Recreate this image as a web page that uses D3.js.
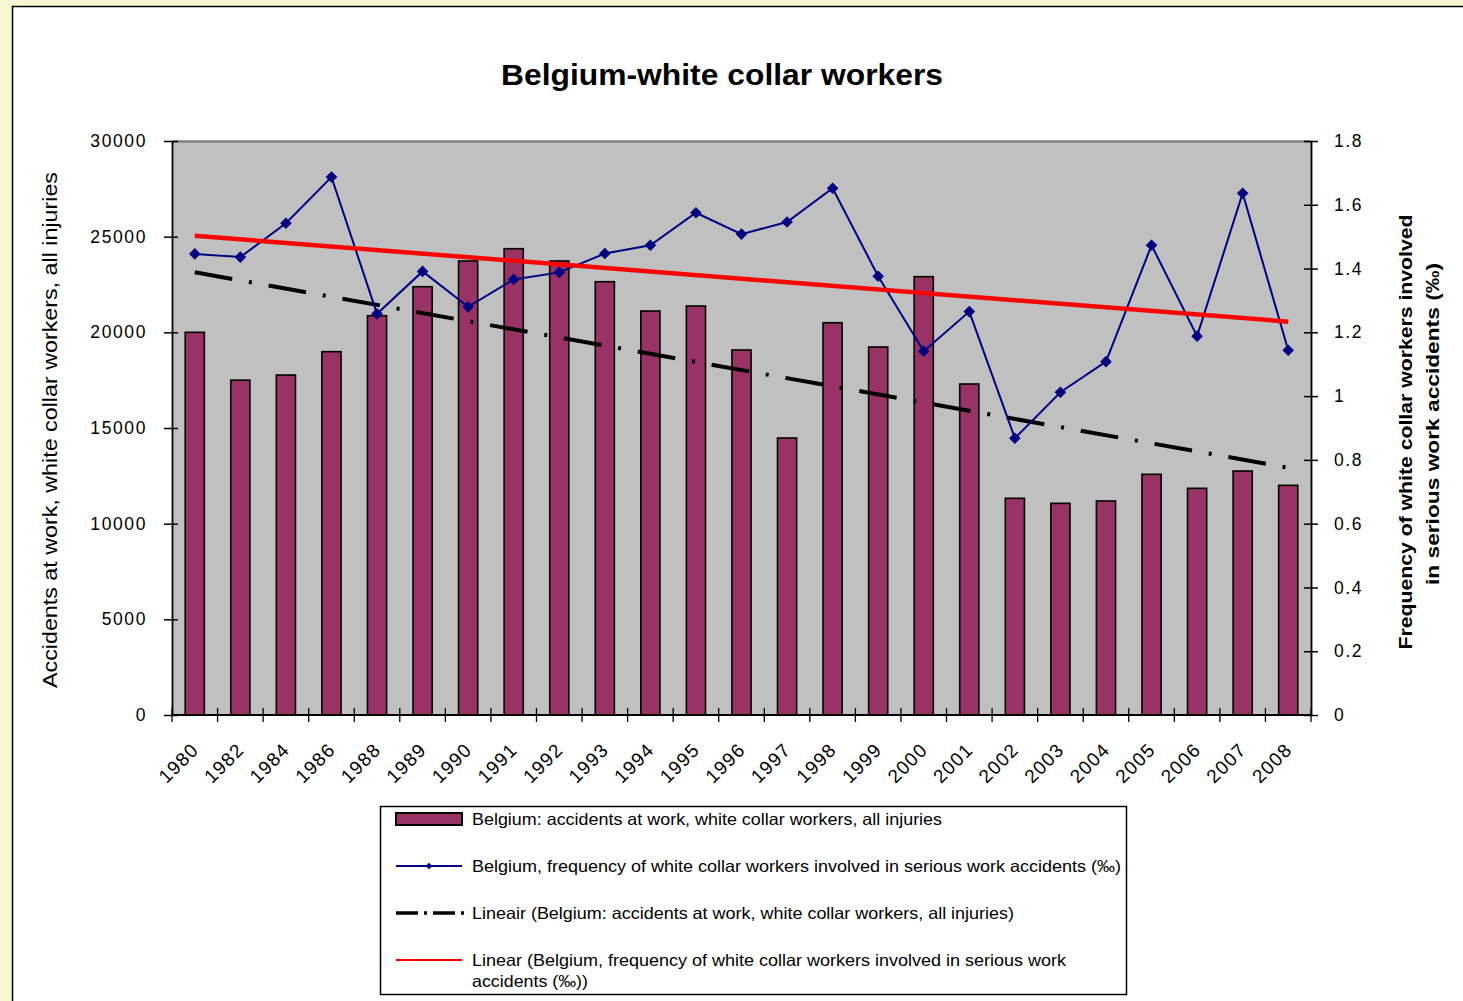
<!DOCTYPE html>
<html>
<head>
<meta charset="utf-8">
<script src="https://cdn.jsdelivr.net/npm/d3@7"></script>
<style>
  html, body { margin: 0; padding: 0; background: #FAF8D2; }
  svg { display: block; }
  text { font-family: "Liberation Sans", Arial, sans-serif; fill: #000; }
</style>
</head>
<body>
<svg id="chart" width="1463" height="1001"></svg>
<script>
// ---------- data ----------
const years = ["1980","1982","1984","1986","1988","1989","1990","1991","1992","1993",
  "1994","1995","1996","1997","1998","1999","2000","2001","2002","2003",
  "2004","2005","2006","2007","2008"];
const accidents = [20000, 17500, 17770, 18990, 20870, 22385, 23728, 24370, 23728, 22646,
  21115, 21376, 19077, 14477, 20502, 19233, 22909, 17300, 11325, 11063,
  11185, 12579, 11847, 12753, 12003];
const frequency = [1.446, 1.436, 1.542, 1.687, 1.258, 1.391, 1.280, 1.366, 1.388, 1.447,
  1.473, 1.575, 1.508, 1.546, 1.652, 1.376, 1.141, 1.265, 0.868, 1.012,
  1.108, 1.473, 1.188, 1.636, 1.144];
const leftTicks = [0, 5000, 10000, 15000, 20000, 25000, 30000];
const rightTicks = [0, 0.2, 0.4, 0.6, 0.8, 1, 1.2, 1.4, 1.6, 1.8];
const titleText = "Belgium-white collar workers";
const leftTitle = "Accidents at work, white collar workers, all injuries";
const rightTitle = ["Frequency of white collar workers involved", "in serious work accidents (‰)"];
const legendLabels = [
  ["Belgium: accidents at work, white collar workers, all injuries"],
  ["Belgium, frequency of white collar workers involved in serious work accidents (‰)"],
  ["Lineair (Belgium: accidents at work, white collar workers, all injuries)"],
  ["Linear (Belgium, frequency of white collar workers involved in serious work", "accidents (‰))"]
];

// ---------- layout ----------
const P = { left: 172, right: 1311, top: 141, bottom: 715 };
const BAR = "#993366", BLUE = "#000080", RED = "#FF0000";

const svg = d3.select("#chart");

// outer white frame
svg.append("rect").attr("x", 12.5).attr("y", 6.5).attr("width", 1470).attr("height", 1010)
  .attr("fill", "#fff").attr("stroke", "#000").attr("stroke-width", 1.5);

// scales
const xCat = d3.scaleBand().domain(years).range([P.left, P.right]).padding(0);
const xBar = d3.scaleBand().domain(years).range([P.left, P.right]).paddingInner(0.58).paddingOuter(0.29);
const yL = d3.scaleLinear().domain([0, 30000]).range([P.bottom, P.top]);
const yR = d3.scaleLinear().domain([0, 1.8]).range([P.bottom, P.top]);
const cx = d => xCat(d) + xCat.bandwidth() / 2;

// plot area
svg.append("rect").attr("x", P.left).attr("y", P.top)
  .attr("width", P.right - P.left).attr("height", P.bottom - P.top)
  .attr("fill", "#C0C0C0");
svg.append("line").attr("x1", P.left).attr("x2", P.right).attr("y1", P.top + 0.5).attr("y2", P.top + 0.5)
  .attr("stroke", "#808080").attr("stroke-width", 2.5);

// bars
svg.append("g").selectAll("rect").data(years).join("rect")
  .attr("x", d => xBar(d))
  .attr("y", (d, i) => yL(accidents[i]))
  .attr("width", xBar.bandwidth())
  .attr("height", (d, i) => P.bottom - yL(accidents[i]))
  .attr("fill", BAR).attr("stroke", "#000").attr("stroke-width", 1.6);

// linear regression (Excel trendline, x = 1..n)
function linReg(vals) {
  const n = vals.length;
  const xs = vals.map((v, i) => i + 1);
  const mx = d3.mean(xs), my = d3.mean(vals);
  let sxy = 0, sxx = 0;
  xs.forEach((x, i) => { sxy += (x - mx) * (vals[i] - my); sxx += (x - mx) * (x - mx); });
  const b = sxy / sxx, a = my - b * mx;
  return x => a + b * x;
}
const accFit = linReg(accidents);
const freqFit = linReg(frequency);
const n = years.length;

// black dash-dot trend
svg.append("line")
  .attr("x1", cx(years[0])).attr("y1", yL(accFit(1)))
  .attr("x2", cx(years[n - 1])).attr("y2", yL(accFit(n)))
  .attr("stroke", "#000").attr("stroke-width", 4)
  .attr("stroke-dasharray", "38,17,3,17");

// blue frequency line
svg.append("path")
  .datum(years)
  .attr("d", d3.line().x(d => cx(d)).y((d, i) => yR(frequency[i])))
  .attr("fill", "none").attr("stroke", BLUE).attr("stroke-width", 2);
svg.append("g").selectAll("path").data(years).join("path")
  .attr("d", d3.symbol().type(d3.symbolSquare).size(52))
  .attr("transform", (d, i) => `translate(${cx(d)},${yR(frequency[i])}) rotate(45)`)
  .attr("fill", BLUE).attr("stroke", BLUE).attr("stroke-width", 1);

// red trend
svg.append("line")
  .attr("x1", cx(years[0])).attr("y1", yR(freqFit(1)))
  .attr("x2", cx(years[n - 1])).attr("y2", yR(freqFit(n)))
  .attr("stroke", RED).attr("stroke-width", 4.5);

// axes
const tickFont = g => g.selectAll("text").attr("font-size", 17.5).attr("letter-spacing", 1.6)
  .style("font-family", "'Liberation Sans', Arial, sans-serif");

const gL = svg.append("g").attr("transform", `translate(${P.left},0)`)
  .call(d3.axisLeft(yL).tickValues(leftTicks).tickFormat(d3.format("d")).tickSizeOuter(0).tickPadding(19));
gL.select(".domain").attr("stroke", "#000").attr("stroke-width", 1.8);
gL.selectAll(".tick line").attr("x1", -8).attr("x2", 6).attr("stroke", "#000").attr("stroke-width", 1.5);
gL.call(tickFont);

const gR = svg.append("g").attr("transform", `translate(${P.right},0)`)
  .call(d3.axisRight(yR).tickValues(rightTicks).tickFormat(d => String(+d.toFixed(1))).tickSizeOuter(0).tickPadding(17));
gR.select(".domain").attr("stroke", "#000").attr("stroke-width", 1.8);
gR.selectAll(".tick line").attr("x1", -7).attr("x2", 7).attr("stroke", "#000").attr("stroke-width", 1.5);
gR.call(tickFont);
gR.selectAll("text").attr("text-anchor", "start");

// bottom axis: ticks at category boundaries
const gB = svg.append("g").attr("transform", `translate(0,${P.bottom})`);
gB.append("line").attr("x1", P.left).attr("x2", P.right).attr("stroke", "#000").attr("stroke-width", 1.8);
gB.selectAll("line.tk").data(years.concat(["__end"])).join("line").attr("class", "tk")
  .attr("x1", (d, i) => i < n ? xCat(d) : P.right)
  .attr("x2", (d, i) => i < n ? xCat(d) : P.right)
  .attr("y1", -7).attr("y2", 7).attr("stroke", "#000").attr("stroke-width", 1.3);
gB.selectAll("text").data(years).join("text")
  .attr("transform", d => `translate(${cx(d) + 5},${36}) rotate(-45)`)
  .attr("text-anchor", "end").attr("font-size", 19).attr("letter-spacing", 1.2)
  .text(d => d);

// title
svg.append("text").attr("x", 722).attr("y", 85).attr("text-anchor", "middle")
  .attr("font-size", 29).attr("font-weight", "bold")
  .attr("textLength", 442).attr("lengthAdjust", "spacingAndGlyphs").text(titleText);

// axis titles
svg.append("text").attr("transform", `translate(57,430) rotate(-90)`)
  .attr("text-anchor", "middle").attr("font-size", 19.5).attr("textLength", 516).attr("lengthAdjust", "spacingAndGlyphs")
  .text(leftTitle);
svg.append("text").attr("transform", `translate(1412,432) rotate(-90)`)
  .attr("text-anchor", "middle").attr("font-size", 18.5).attr("font-weight", "bold")
  .attr("textLength", 435).attr("lengthAdjust", "spacingAndGlyphs").text(rightTitle[0]);
svg.append("text").attr("transform", `translate(1439,424) rotate(-90)`)
  .attr("text-anchor", "middle").attr("font-size", 18.5).attr("font-weight", "bold")
  .attr("textLength", 322).attr("lengthAdjust", "spacingAndGlyphs").text(rightTitle[1]);

// legend
const lg = svg.append("g");
lg.append("rect").attr("x", 380.5).attr("y", 806.5).attr("width", 746).attr("height", 188)
  .attr("fill", "#fff").attr("stroke", "#000").attr("stroke-width", 1.5);
const rowY = [819, 866, 913, 960];
const textLens = [[470], [649], [542], [594, 116]];
lg.append("rect").attr("x", 396).attr("y", rowY[0] - 6).attr("width", 66).attr("height", 12)
  .attr("fill", BAR).attr("stroke", "#000").attr("stroke-width", 2);
lg.append("line").attr("x1", 396).attr("x2", 462).attr("y1", rowY[1]).attr("y2", rowY[1])
  .attr("stroke", BLUE).attr("stroke-width", 2);
lg.append("path").attr("d", d3.symbol().type(d3.symbolSquare).size(22)())
  .attr("transform", `translate(429,${rowY[1]}) rotate(45)`).attr("fill", BLUE);
lg.append("line").attr("x1", 396).attr("x2", 466).attr("y1", rowY[2]).attr("y2", rowY[2])
  .attr("stroke", "#000").attr("stroke-width", 3.5).attr("stroke-dasharray", "22,6,3,6");
lg.append("line").attr("x1", 396).attr("x2", 462).attr("y1", rowY[3]).attr("y2", rowY[3])
  .attr("stroke", RED).attr("stroke-width", 2);
legendLabels.forEach((lines, i) => {
  lines.forEach((t, j) => {
    lg.append("text").attr("x", 472).attr("y", rowY[i] + 6 + j * 21)
      .attr("font-size", 16.5).attr("textLength", textLens[i][j]).attr("lengthAdjust", "spacingAndGlyphs")
      .text(t);
  });
});
</script>
</body>
</html>
